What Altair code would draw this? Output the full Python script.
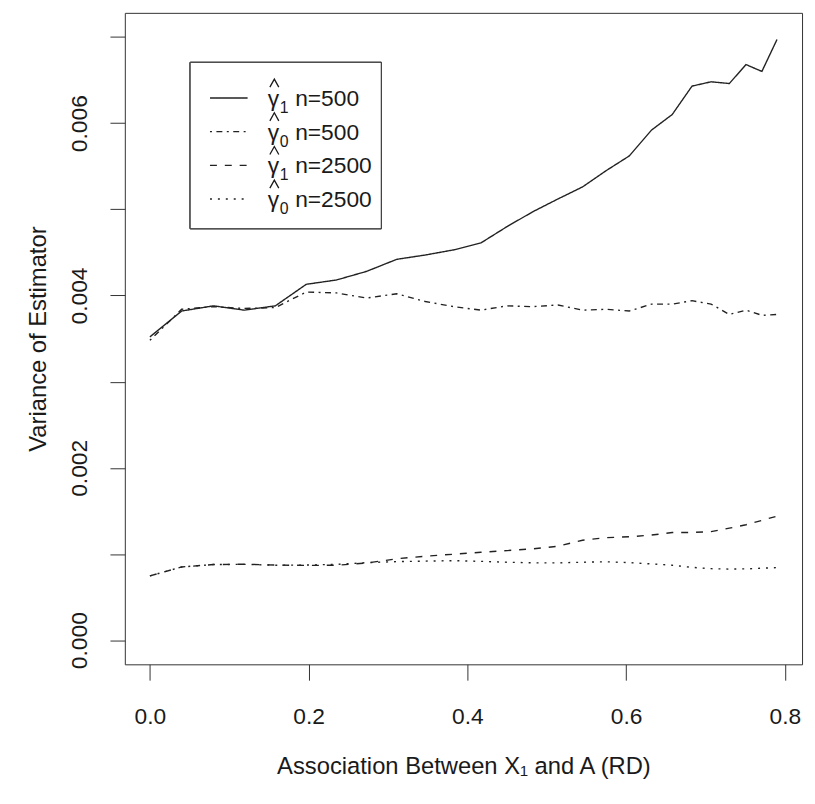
import altair as alt
import pandas as pd

# ---- data ----
rd = [0.000, 0.040, 0.080, 0.119, 0.158, 0.197, 0.235, 0.273, 0.311, 0.347,
      0.383, 0.417, 0.450, 0.482, 0.514, 0.545, 0.575, 0.604, 0.632, 0.658,
      0.683, 0.707, 0.730, 0.751, 0.771, 0.790]

g1_n500 = [0.00352, 0.00382, 0.00388, 0.00383, 0.00388, 0.00413, 0.00418, 0.00428, 0.00442, 0.00447,
           0.00453, 0.00461, 0.00480, 0.00497, 0.00512, 0.00526, 0.00545, 0.00562, 0.00592, 0.00610,
           0.00643, 0.00648, 0.00646, 0.00668, 0.00660, 0.00697]

g0_n500 = [0.00348, 0.00384, 0.00387, 0.00385, 0.00386, 0.00404, 0.00403, 0.00397, 0.00402, 0.00393,
           0.00387, 0.00383, 0.00388, 0.00387, 0.00389, 0.00383, 0.00384, 0.00382, 0.00390, 0.00390,
           0.00394, 0.00390, 0.00378, 0.00383, 0.00377, 0.00378]

g1_n2500 = [0.000746, 0.000850, 0.000878, 0.000882, 0.000872, 0.000868, 0.000870, 0.000895, 0.000945, 0.000975,
            0.000998, 0.00102, 0.00104, 0.00106, 0.00109, 0.00116, 0.00119, 0.00120, 0.00122, 0.00125,
            0.00125, 0.00126, 0.00130, 0.00134, 0.00139, 0.00144]

g0_n2500 = [0.000746, 0.000850, 0.000878, 0.000880, 0.000870, 0.000872, 0.000880, 0.000900, 0.000912, 0.000918,
            0.000923, 0.000915, 0.000905, 0.000898, 0.000897, 0.000905, 0.000910, 0.000900, 0.000885, 0.000870,
            0.000845, 0.000830, 0.000825, 0.000828, 0.000835, 0.000843]

series_names = ["g1_500", "g0_500", "g1_2500", "g0_2500"]
legend_sub = ["1", "0", "1", "0"]
legend_n = ["n=500", "n=500", "n=2500", "n=2500"]
x_ticks = [0.0, 0.2, 0.4, 0.6, 0.8]
y_ticks = [0.000, 0.001, 0.002, 0.003, 0.004, 0.005, 0.006, 0.007]

rows = []
for name, vals in zip(series_names, [g1_n500, g0_n500, g1_n2500, g0_n2500]):
    for x, v in zip(rd, vals):
        rows.append({"series": name, "rd": x, "var": v})
df = pd.DataFrame(rows)

leg = pd.DataFrame({"series": series_names, "row": [0, 1, 2, 3],
                    "sub": legend_sub, "ntext": legend_n,
                    "gamma": ["γ"] * 4})

FONT = "Liberation Sans"
INK = "#1a1a1a"

dash_scale = alt.Scale(domain=series_names,
                       range=[[1, 0], [2, 4.5, 6, 4.5], [7, 8], [2, 6]])

lines = alt.Chart(df).mark_line(strokeWidth=1.4, color="#222").encode(
    x=alt.X("rd:Q", scale=alt.Scale(domain=[-0.0316, 0.8216], nice=False, zero=False),
            axis=alt.Axis(values=x_ticks, format=".1f", title="Association Between X₁ and A (RD)",
                          tickSize=16, labelPadding=37, labelBaseline="middle",
                          titleY=103, titleBaseline="middle")),
    y=alt.Y("var:Q", scale=alt.Scale(domain=[-0.00028, 0.00728], nice=False, zero=False),
            axis=alt.Axis(values=y_ticks,
                          labelExpr="(round(datum.value*1000) % 2 == 0) ? format(datum.value, '.3f') : ''",
                          title="Variance of Estimator", tickSize=15, labelPadding=31,
                          labelAngle=-90, labelAlign="center", labelBaseline="middle",
                          titleX=-87, titleY=329, titleAngle=-90, titleAlign="center",
                          titleBaseline="middle")),
    strokeDash=alt.StrokeDash("series:N", scale=dash_scale, legend=None),
    detail="series:N",
    order="rd:Q",
)

box = alt.Chart(leg).mark_rect(fill="white", stroke="#333", strokeWidth=1).encode(
    x=alt.value(66), x2=alt.value(259), y=alt.value(50), y2=alt.value(218)
)

row_y = alt.Y("row:Q", scale=alt.Scale(domain=[0, 3], range=[86, 188]), axis=None)
hat_y = alt.Y("row:Q", scale=alt.Scale(domain=[0, 3], range=[71, 173]), axis=None)

leg_rules = alt.Chart(leg).mark_rule(strokeWidth=1.4, color="#222").encode(
    x=alt.value(86), x2=alt.value(124), y=row_y,
    strokeDash=alt.StrokeDash("series:N", scale=dash_scale, legend=None),
)

gamma = alt.Chart(leg).mark_text(font=FONT, fontSize=23, color=INK, align="center",
                                 baseline="alphabetic", dy=8).encode(
    x=alt.value(150), y=row_y, text="gamma:N")

hat = alt.Chart(leg).mark_point(shape="M-1,0.9L0,-0.9L1,0.9", size=81, filled=False,
                                stroke=INK, strokeWidth=1.3, opacity=1).encode(
    x=alt.value(151), y=hat_y)

sub = alt.Chart(leg).mark_text(font=FONT, fontSize=16, color=INK, align="center",
                               baseline="alphabetic", dy=15).encode(
    x=alt.value(161), y=row_y, text="sub:N")

ntext = alt.Chart(leg).mark_text(font=FONT, fontSize=23, color=INK, align="left",
                                 baseline="alphabetic", dy=8).encode(
    x=alt.value(172), y=row_y, text="ntext:N")

chart = alt.layer(lines, box, leg_rules, gamma, hat, sub, ntext).resolve_scale(
    y="independent"
).properties(
    width=684, height=658,
    autosize=alt.AutoSizeParams(type="none"),
    padding={"left": 118, "top": 1, "right": 5, "bottom": 120},
).configure_view(
    stroke="#333", strokeWidth=1
).configure_axis(
    domain=False, grid=False, tickColor="#333", tickWidth=1,
    labelFont=FONT, labelFontSize=23, labelColor=INK,
    titleFont=FONT, titleFontSize=24, titleColor=INK, titleFontWeight="normal",
)

chart.save("out.html", embed_options={"renderer": "svg", "actions": False})
